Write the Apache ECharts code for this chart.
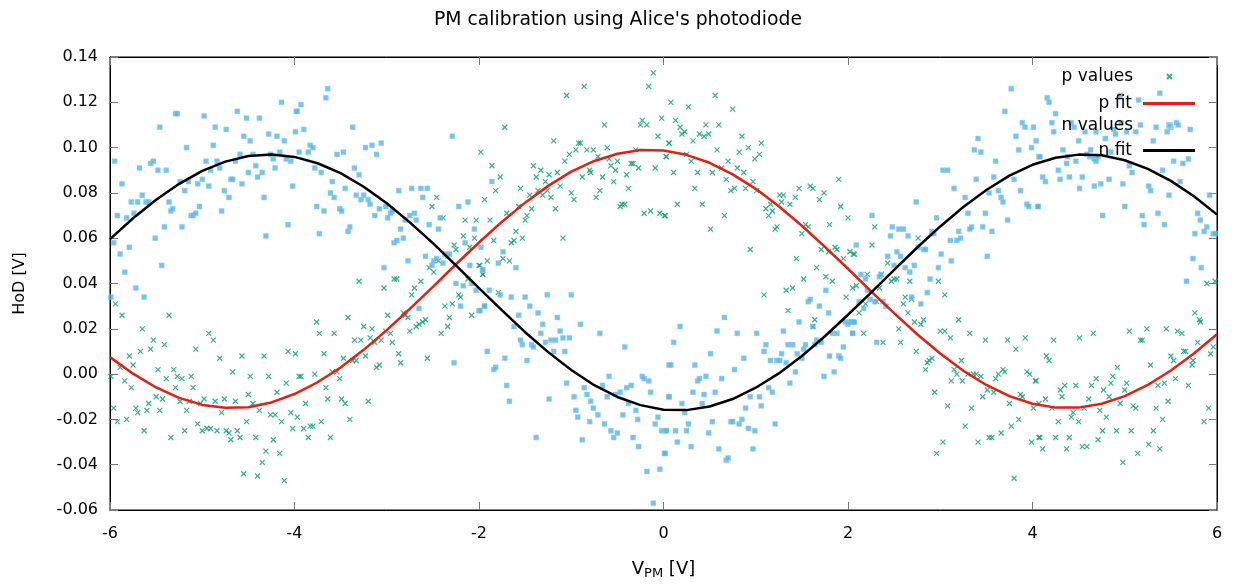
<!DOCTYPE html>
<html><head><meta charset="utf-8">
<script src="https://cdn.jsdelivr.net/npm/echarts@6/dist/echarts.min.js"></script>
<style>html,body{margin:0;padding:0;background:#fff}#c{width:1236px;height:585px}</style>
</head><body><div id="c"></div>
<script>
const titleText = "PM calibration using Alice's photodiode";
const seriesNames = ["p values", "p fit", "n values", "n fit"];
const xTickValues = [-6, -4, -2, 0, 2, 4, 6];
const yTickValues = [-0.06, -0.04, -0.02, 0.00, 0.02, 0.04, 0.06, 0.08, 0.10, 0.12, 0.14];

const pValues = [
[-5.94,0.031],[-5.87,0.026],[-5.99,-0.001],[-5.96,-0.015],[-5.92,-0.021],[-5.89,0.003],[-5.84,-0.003],[-5.82,-0.020],[-5.79,0.008],[-5.77,-0.006],
[-5.75,0.004],[-5.72,-0.015],[-5.70,-0.017],[-5.67,0.010],[-5.65,0.020],[-5.63,-0.025],[-5.60,-0.016],[-5.58,-0.013],[-5.56,0.011],[-5.53,0.015],
[-5.50,-0.010],[-5.48,0.002],[-5.46,-0.016],[-5.43,-0.011],[-5.41,0.013],[-5.39,-0.002],[-5.36,0.026],[-5.34,-0.028],[-5.31,0.002],[-5.29,-0.006],
[-5.27,-0.001],[-5.24,-0.012],[-5.22,-0.002],[-5.19,-0.025],[-5.17,-0.016],[-5.14,-0.012],[-5.12,-0.001],[-5.10,-0.006],[-5.07,0.011],[-5.05,-0.022],
[-5.02,-0.013],[-5.00,-0.025],[-4.98,-0.011],[-4.95,-0.024],[-4.93,0.018],[-4.91,-0.024],[-4.88,0.015],[-4.86,-0.012],[-4.84,-0.025],[-4.81,0.007],
[-4.79,-0.017],[-4.76,-0.011],[-4.74,-0.025],[-4.71,-0.026],[-4.69,-0.029],[-4.67,0.001],[-4.64,-0.012],[-4.62,-0.025],[-4.59,-0.028],[-4.57,0.008],
[-4.55,-0.044],[-4.52,-0.021],[-4.50,-0.009],[-4.48,-0.001],[-4.45,-0.013],[-4.42,-0.028],[-4.40,-0.045],[-4.38,-0.016],[-4.35,-0.039],[-4.33,0.008],
[-4.31,-0.034],[-4.28,-0.001],[-4.26,-0.018],[-4.23,-0.029],[-4.21,-0.018],[-4.19,-0.008],[-4.16,-0.035],[-4.14,-0.021],[-4.11,-0.047],[-4.09,-0.004],
[-4.07,0.010],[-4.04,-0.017],[-4.02,-0.024],[-3.99,0.009],[-3.97,-0.019],[-3.95,-0.001],
[-3.93,-0.001],[-3.88,-0.013],[-3.90,-0.024],[-3.85,-0.028],[-3.83,-0.023],[-3.80,-0.023],[-3.78,0.000],[-3.76,0.023],[-3.73,0.018],[-3.71,-0.021],
[-3.68,0.009],[-3.66,-0.006],[-3.64,-0.011],[-3.61,-0.028],[-3.59,0.001],[-3.57,0.018],[-3.54,0.001],[-3.51,-0.002],[-3.49,-0.011],[-3.47,0.007],
[-3.45,-0.013],[-3.42,0.025],[-3.40,-0.020],[-3.37,0.006],[-3.35,0.015],[-3.33,0.006],[-3.30,0.041],[-3.28,0.015],[-3.25,0.021],[-3.23,0.008],
[-3.20,-0.012],[-3.18,0.016],[-3.16,0.020],[-3.13,0.014],[-3.11,0.003],[-3.08,0.004],[-3.06,0.015],[-3.03,0.038],[-3.01,0.019],[-2.99,0.026],
[-2.96,0.018],[-2.94,0.014],[-2.92,0.042],[-2.89,0.042],[-2.87,0.009],[-2.85,0.005],[-2.82,0.027],[-2.80,0.026],[-2.77,0.025],[-2.75,0.019],
[-2.73,0.035],[-2.70,0.038],[-2.68,0.021],[-2.65,0.022],[-2.63,0.041],[-2.61,0.023],[-2.58,0.024],[-2.56,0.007],[-2.54,0.047],[-2.51,0.074],
[-2.49,0.045],[-2.46,0.078],[-2.44,0.050],[-2.41,0.018],[-2.39,0.069],[-2.37,0.030],[-2.34,0.021],[-2.32,0.025],[-2.29,0.031],[-2.27,0.057],
[-2.25,0.055],[-2.22,0.035],[-2.20,0.034],[-2.17,0.061],[-2.15,0.068],[-2.12,0.042],[-2.10,0.056],[-2.08,0.026],[-2.05,0.060],[-2.03,0.068],
[-2.00,0.048],[-1.98,0.098],[-1.96,0.044],[-1.94,0.077],
[-1.88,0.068],[-1.86,0.092],[-1.84,0.059],[-1.82,0.081],[-1.77,0.087],[-1.72,0.109],[-1.74,0.051],[-1.70,0.071],[-1.67,0.050],[-1.65,0.058],
[-1.62,0.059],[-1.60,0.063],[-1.57,0.074],[-1.55,0.082],[-1.53,0.060],[-1.50,0.068],[-1.48,0.070],[-1.45,0.079],[-1.43,0.073],[-1.41,0.092],
[-1.38,0.087],[-1.36,0.081],[-1.33,0.090],[-1.31,0.079],[-1.28,0.085],[-1.26,0.081],[-1.24,0.088],[-1.22,0.078],[-1.19,0.103],[-1.17,0.073],
[-1.15,0.089],[-1.12,0.083],[-1.09,0.060],[-1.07,0.094],[-1.05,0.123],[-1.02,0.097],[-1.00,0.080],[-0.97,0.077],[-0.95,0.099],[-0.92,0.102],
[-0.90,0.102],[-0.88,0.087],[-0.86,0.127],[-0.83,0.099],[-0.80,0.090],[-0.79,0.089],[-0.76,0.099],[-0.73,0.078],[-0.71,0.096],[-0.69,0.081],
[-0.66,0.087],[-0.64,0.110],[-0.61,0.100],[-0.59,0.095],[-0.57,0.092],[-0.54,0.085],[-0.52,0.090],[-0.50,0.094],[-0.47,0.074],[-0.45,0.075],
[-0.42,0.075],[-0.40,0.088],[-0.38,0.082],[-0.35,0.093],[-0.33,0.093],[-0.30,0.099],[-0.27,0.091],[-0.25,0.110],[-0.23,0.112],[-0.21,0.071],
[-0.18,0.110],[-0.16,0.127],[-0.14,0.072],[-0.11,0.133],[-0.09,0.091],[-0.06,0.105],[-0.04,0.071],[-0.02,0.113],[0.01,0.070],[0.03,0.096],
[0.06,0.102],[-1.96,0.044],[-1.91,0.050],[-1.79,0.036],[-1.99,0.048],
[0.08,0.120],[0.27,0.118],[0.56,0.123],[0.75,0.117],[0.13,0.112],[0.18,0.109],[0.20,0.106],[0.23,0.107],[0.32,0.103],[0.39,0.106],
[0.44,0.105],[0.46,0.110],[0.49,0.106],[0.60,0.110],[0.06,0.102],[0.30,0.094],[0.03,0.096],[0.11,0.089],[0.25,0.097],[0.37,0.089],
[0.53,0.089],[0.58,0.099],[0.63,0.091],[0.68,0.086],[0.70,0.094],[0.80,0.091],[0.82,0.098],[0.85,0.105],[0.87,0.089],[0.89,0.082],
[0.92,0.100],[0.97,0.085],[0.99,0.095],[1.01,0.081],[1.04,0.097],[1.06,0.102],[0.34,0.082],[0.15,0.075],[0.42,0.075],[0.73,0.081],
[0.77,0.082],[0.02,0.070],[0.66,0.070],[0.51,0.064],[1.11,0.073],[1.14,0.070],[1.16,0.075],[1.18,0.072],[1.21,0.064],[1.23,0.065],
[1.26,0.079],[1.28,0.076],[1.30,0.079],[1.37,0.075],[1.43,0.078],[1.47,0.082],[1.50,0.062],[1.54,0.066],[1.57,0.065],[1.59,0.083],
[1.62,0.082],[1.69,0.077],[1.74,0.080],[1.80,0.066],[1.90,0.086],[1.92,0.074],[2.00,0.069],[0.94,0.055],[1.09,0.035],[1.33,0.037],
[1.40,0.038],[1.35,0.028],[1.44,0.051],[1.52,0.042],[1.64,0.024],[1.62,0.021],[1.66,0.047],[1.71,0.055],[1.76,0.043],[1.79,0.054],
[1.83,0.041],[1.86,0.056],[1.88,0.055],[1.95,0.051],[1.98,0.034],[2.02,0.054],[2.05,0.038],[2.06,0.053],
[2.29,0.065],[2.26,0.057],[2.76,0.060],[2.07,0.053],[2.43,0.049],[2.21,0.044],[2.36,0.044],[2.47,0.041],[2.50,0.042],[2.53,0.042],
[2.67,0.041],[2.98,0.041],[2.09,0.039],[2.34,0.038],[3.05,0.035],[2.19,0.031],[2.12,0.027],[2.31,0.032],[2.62,0.034],[2.60,0.031],
[2.69,0.033],[2.65,0.027],[2.72,0.023],[2.79,0.022],[2.82,0.024],[2.55,0.020],[2.17,0.018],[2.38,0.014],[2.57,0.014],[3.00,0.019],
[3.05,0.019],[3.11,0.016],[3.20,0.024],[3.32,0.018],[3.49,0.015],[3.73,0.015],[3.92,0.016],[2.74,0.010],[3.82,0.011],[2.86,0.005],
[2.88,0.006],[2.91,0.007],[2.84,0.002],[3.23,0.006],[3.15,0.002],[3.18,0.000],[3.30,0.000],[3.36,0.000],[3.39,0.000],[3.44,-0.001],
[3.63,0.000],[3.68,0.002],[3.70,0.001],[3.60,-0.002],[3.94,0.001],[3.97,0.000],[4.04,-0.003],[3.12,-0.003],[3.24,-0.003],[3.51,-0.007],
[3.46,-0.010],[3.58,-0.008],[3.87,-0.009],[3.89,-0.010],[3.75,-0.013],[4.01,-0.015],[4.07,-0.013],[2.94,-0.008],[3.08,-0.014],[3.34,-0.015],
[3.85,-0.020],[3.27,-0.023],[3.77,-0.023],[3.03,-0.030],[3.41,-0.030],[3.53,-0.028],[3.56,-0.028],[3.66,-0.026],[3.99,-0.030],[4.07,-0.028],
[2.96,-0.035],[3.80,-0.046],
[5.89,0.040],[5.98,0.041],[5.76,0.027],[5.82,0.023],[5.81,0.024],[4.23,0.015],[4.51,0.016],[4.66,0.018],[5.05,0.019],[5.24,0.020],
[5.45,0.020],[5.57,0.019],[5.62,0.018],[5.17,0.015],[5.19,0.015],[5.96,0.012],[5.93,0.009],[5.79,0.014],[5.66,0.010],[5.64,0.010],
[5.50,0.008],[4.15,0.008],[4.18,0.006],[5.74,0.006],[5.73,0.004],[5.53,0.006],[5.28,0.004],[4.92,0.003],[4.03,-0.003],[4.87,-0.001],
[4.69,-0.002],[4.35,-0.005],[4.47,-0.005],[4.64,-0.005],[5.02,-0.004],[4.85,-0.004],[5.36,-0.005],[5.43,-0.004],[5.55,-0.002],[5.69,-0.005],
[4.30,-0.007],[4.77,-0.007],[5.00,-0.007],[4.32,-0.010],[4.14,-0.011],[4.21,-0.015],[4.61,-0.011],[4.83,-0.010],[4.95,-0.013],[5.09,-0.014],
[5.12,-0.015],[4.56,-0.015],[5.34,-0.015],[5.47,-0.012],[5.91,-0.015],[4.44,-0.017],[4.42,-0.019],[4.73,-0.016],[4.50,-0.021],[4.28,-0.021],
[4.80,-0.019],[5.41,-0.020],[5.86,-0.021],[4.76,-0.025],[4.91,-0.025],[5.07,-0.025],[5.31,-0.025],[4.08,-0.028],[4.25,-0.028],[4.40,-0.028],
[4.11,-0.033],[4.37,-0.033],[4.54,-0.032],[4.59,-0.032],[4.71,-0.029],[5.26,-0.031],[5.38,-0.033],[5.14,-0.035],[4.98,-0.039]
];

const nValues = [
[-5.95,0.094],[-5.87,0.084],[-5.92,0.070],[-5.96,0.058],[-5.89,0.053],[-5.84,0.045],[-5.99,0.034],[-5.79,0.056],[-5.82,0.069],[-5.77,0.076],
[-5.74,0.071],[-5.72,0.038],[-5.70,0.076],[-5.68,0.091],[-5.65,0.079],[-5.63,0.034],[-5.61,0.076],[-5.58,0.076],[-5.56,0.093],[-5.53,0.094],
[-5.51,0.060],[-5.48,0.090],[-5.46,0.109],[-5.44,0.048],[-5.41,0.065],[-5.39,0.090],[-5.36,0.076],[-5.34,0.072],[-5.32,0.073],[-5.29,0.115],
[-5.27,0.115],[-5.24,0.085],[-5.22,0.065],[-5.19,0.081],[-5.17,0.100],[-5.15,0.085],[-5.12,0.070],[-5.10,0.070],[-5.07,0.071],[-5.05,0.084],
[-5.03,0.074],[-5.00,0.086],[-4.98,0.114],[-4.96,0.094],[-4.93,0.083],[-4.91,0.090],[-4.88,0.101],[-4.86,0.109],[-4.84,0.094],[-4.81,0.091],
[-4.79,0.072],[-4.76,0.081],[-4.74,0.108],[-4.71,0.078],[-4.69,0.086],[-4.67,0.086],[-4.64,0.094],[-4.62,0.116],[-4.59,0.097],[-4.57,0.084],
[-4.55,0.105],[-4.52,0.113],[-4.50,0.089],[-4.48,0.103],[-4.45,0.097],[-4.42,0.092],[-4.40,0.087],[-4.38,0.113],[-4.35,0.089],[-4.33,0.078],
[-4.31,0.061],[-4.28,0.106],[-4.26,0.097],[-4.23,0.095],[-4.21,0.091],[-4.19,0.105],[-4.16,0.098],[-4.14,0.120],[-4.11,0.103],[-4.09,0.095],
[-4.07,0.066],[-4.04,0.094],[-4.02,0.083],[-3.99,0.107],[-3.97,0.116],[-3.95,0.098],
[-3.98,0.116],[-3.93,0.119],[-3.90,0.108],[-3.85,0.098],[-3.83,0.101],[-3.80,0.100],[-3.78,0.091],[-3.76,0.074],[-3.73,0.062],[-3.71,0.089],
[-3.68,0.072],[-3.66,0.122],[-3.64,0.126],[-3.61,0.080],[-3.59,0.085],[-3.57,0.078],[-3.54,0.097],[-3.51,0.073],[-3.49,0.072],[-3.47,0.098],
[-3.45,0.082],[-3.42,0.063],[-3.40,0.065],[-3.37,0.109],[-3.35,0.091],[-3.33,0.079],[-3.30,0.088],[-3.28,0.077],[-3.25,0.079],[-3.23,0.100],
[-3.20,0.077],[-3.18,0.075],[-3.16,0.101],[-3.13,0.070],[-3.11,0.097],[-3.08,0.073],[-3.06,0.102],[-3.03,0.047],[-3.01,0.074],[-2.99,0.069],
[-2.96,0.071],[-2.94,0.072],[-2.92,0.058],[-2.89,0.059],[-2.87,0.081],[-2.85,0.064],[-2.82,0.060],[-2.80,0.068],[-2.77,0.050],[-2.75,0.070],
[-2.73,0.082],[-2.70,0.071],[-2.68,0.068],[-2.65,0.029],[-2.63,0.082],[-2.61,0.078],[-2.58,0.052],[-2.56,0.082],[-2.54,0.066],[-2.51,0.048],
[-2.49,0.050],[-2.46,0.051],[-2.44,0.064],[-2.42,0.069],[-2.39,0.049],[-2.37,0.053],[-2.34,0.052],[-2.32,0.053],[-2.29,0.105],[-2.27,0.005],
[-2.25,0.040],[-2.22,0.074],[-2.20,0.030],[-2.17,0.039],[-2.15,0.058],[-2.12,0.076],[-2.10,0.048],[-2.08,0.040],[-2.05,0.064],[-2.03,0.037],
[-2.00,0.028],[-1.98,0.056],[-1.96,0.046],[-1.94,0.030],
[-1.86,0.085],[-1.74,0.054],[-1.79,0.049],[-1.60,0.047],[-1.96,0.046],[-1.89,0.037],[-1.94,0.030],[-1.77,0.035],[-1.65,0.034],[-1.50,0.034],
[-1.26,0.035],[-1.00,0.035],[-1.45,0.030],[-1.36,0.027],[-1.57,0.026],[-1.62,0.021],[-1.31,0.022],[-1.15,0.025],[-1.91,0.010],[-1.84,0.002],
[-1.82,0.003],[-1.72,0.007],[-1.70,-0.005],[-1.67,-0.012],[-1.55,0.015],[-1.53,0.013],[-1.48,0.006],[-1.43,0.013],[-1.41,0.012],[-1.33,0.018],
[-1.28,0.014],[-1.22,0.015],[-1.17,0.015],[-1.12,0.019],[-1.09,0.016],[-1.02,0.016],[-1.19,0.010],[-1.07,0.010],[-0.90,0.022],[-0.69,0.018],
[-0.42,0.012],[-1.24,-0.011],[-1.05,-0.004],[-0.97,-0.010],[-0.95,-0.016],[-0.93,-0.019],[-0.86,-0.006],[-0.83,-0.009],[-0.80,-0.021],[-0.79,-0.012],
[-0.76,-0.015],[-0.71,-0.018],[-0.66,-0.005],[-0.64,-0.022],[-0.61,-0.010],[-0.59,-0.001],[-0.57,-0.025],[-0.54,-0.028],[-0.52,-0.009],[-0.50,-0.026],
[-0.47,-0.008],[-0.44,-0.018],[-0.40,-0.006],[-0.38,-0.013],[-0.35,-0.005],[-0.33,-0.028],[-0.30,-0.016],[-0.28,-0.020],[-0.27,-0.032],[-0.23,-0.001],
[-0.21,-0.002],[-0.18,-0.043],[-0.16,-0.003],[-0.14,-0.008],[-0.11,-0.057],[-0.09,-0.022],[-0.06,-0.019],[-0.04,-0.042],[-0.02,-0.025],[0.01,-0.035],
[0.03,-0.025],[0.06,-0.010],[0.06,0.004],[-1.38,-0.028],[-0.88,-0.029],[-1.99,0.028],
[0.18,0.021],[0.11,0.014],[0.08,0.004],[0.06,-0.010],[0.20,-0.013],[0.23,-0.017],[0.03,-0.025],[0.13,-0.025],[0.25,-0.025],[0.27,-0.022],
[0.15,-0.030],[0.30,-0.032],[0.02,-0.035],[0.32,-0.008],[0.34,0.004],[0.37,-0.003],[0.39,-0.002],[0.42,-0.013],[0.44,-0.009],[0.46,-0.001],
[0.49,-0.026],[0.51,0.009],[0.53,-0.021],[0.56,-0.008],[0.58,0.019],[0.60,-0.033],[0.63,-0.002],[0.66,0.025],[0.68,-0.038],[0.70,-0.037],
[0.73,-0.021],[0.75,-0.021],[0.77,0.002],[0.80,0.018],[0.82,-0.022],[0.85,-0.020],[0.87,0.007],[0.89,-0.015],[0.92,-0.024],[0.94,-0.010],
[0.97,-0.033],[0.99,-0.025],[1.01,0.018],[1.04,-0.010],[1.06,-0.014],[1.09,0.010],[1.11,0.013],[1.14,-0.006],[1.16,0.006],[1.18,-0.008],
[1.21,-0.022],[1.23,0.006],[1.26,0.006],[1.28,0.009],[1.30,0.019],[1.33,0.005],[1.35,0.013],[1.37,-0.004],[1.40,0.013],[1.43,0.001],
[1.45,0.009],[1.47,0.023],[1.50,0.007],[1.52,0.011],[1.54,0.013],[1.57,0.032],[1.59,0.033],[1.62,0.021],[1.64,0.013],[1.66,0.015],
[1.69,0.030],[1.71,0.014],[1.74,-0.001],[1.76,0.037],[1.79,0.027],[1.80,0.008],[1.83,0.018],[1.85,0.001],[1.88,0.018],[1.90,0.008],
[1.92,0.007],[1.95,0.012],[1.97,0.023],[2.00,0.022],[2.02,0.023],[2.05,0.018],[2.06,0.023],
[3.77,0.126],[3.70,0.116],[3.89,0.111],[3.92,0.109],[4.01,0.109],[3.41,0.104],[3.37,0.099],[3.44,0.098],[3.82,0.105],[4.04,0.103],
[3.85,0.099],[3.99,0.100],[3.60,0.094],[4.07,0.096],[3.03,0.090],[3.08,0.090],[3.39,0.086],[3.58,0.087],[3.80,0.086],[3.15,0.082],
[3.53,0.080],[3.63,0.081],[3.27,0.078],[3.66,0.078],[3.68,0.076],[3.87,0.081],[3.94,0.075],[3.96,0.074],[4.06,0.074],[2.74,0.076],
[3.49,0.071],[3.30,0.071],[3.73,0.068],[2.26,0.070],[2.48,0.065],[2.55,0.064],[2.60,0.064],[3.34,0.065],[3.46,0.065],[2.96,0.069],
[2.46,0.061],[2.65,0.061],[2.91,0.063],[2.93,0.062],[3.20,0.063],[3.22,0.060],[3.32,0.064],[3.56,0.063],[2.09,0.057],[3.11,0.059],
[3.18,0.059],[2.53,0.054],[2.57,0.052],[2.76,0.056],[2.82,0.055],[2.84,0.055],[2.43,0.052],[3.01,0.053],[3.51,0.052],[3.12,0.050],
[2.62,0.047],[2.72,0.048],[2.98,0.047],[2.67,0.045],[2.14,0.044],[2.36,0.044],[2.34,0.043],[2.19,0.042],[2.89,0.042],[2.50,0.048],
[2.86,0.036],[2.79,0.031],[2.69,0.034],[2.21,0.037],[2.12,0.032],[2.24,0.033],[2.29,0.032],[2.38,0.032],[2.41,0.030],[2.17,0.029],
[2.04,0.023],[2.07,0.023],[2.05,0.018],[2.31,0.014],
[4.16,0.122],[4.18,0.120],[4.25,0.115],[4.21,0.111],[4.23,0.107],[4.42,0.111],[4.45,0.109],[4.57,0.107],[4.50,0.103],[4.69,0.107],
[4.79,0.104],[4.88,0.108],[4.90,0.106],[4.96,0.111],[5.02,0.107],[5.12,0.107],[5.17,0.110],[5.34,0.109],[5.46,0.107],[5.50,0.109],
[5.56,0.111],[5.58,0.110],[5.71,0.108],[5.31,0.103],[5.38,0.124],[4.95,0.123],[5.15,0.121],[4.38,0.096],[4.33,0.099],[4.47,0.094],
[4.59,0.097],[4.62,0.096],[4.63,0.099],[4.67,0.095],[4.69,0.094],[4.71,0.096],[4.37,0.093],[4.08,0.096],[4.85,0.098],[5.05,0.092],
[5.08,0.089],[5.41,0.090],[5.53,0.094],[5.69,0.095],[5.63,0.093],[4.28,0.090],[4.11,0.087],[4.14,0.085],[4.30,0.086],[4.40,0.087],
[4.54,0.087],[4.51,0.082],[4.67,0.083],[4.74,0.084],[4.83,0.086],[4.98,0.084],[5.26,0.083],[5.28,0.081],[5.48,0.079],[5.60,0.085],
[5.92,0.079],[4.06,0.074],[5.00,0.074],[4.76,0.070],[5.19,0.070],[5.21,0.066],[5.36,0.071],[5.43,0.066],[5.79,0.071],[5.82,0.068],
[5.89,0.065],[5.76,0.062],[5.86,0.063],[5.96,0.062],[5.98,0.062],[5.74,0.051],[5.83,0.047],[5.67,0.041]
];

const pFit = [
[-6.00,0.0075],[-5.75,0.0002],[-5.50,-0.0059],[-5.25,-0.0105],[-5.00,-0.0136],[-4.75,-0.0149],[-4.50,-0.0146],[-4.25,-0.0125],
[-4.00,-0.0088],[-3.75,-0.0036],[-3.50,0.0029],[-3.25,0.0107],[-3.00,0.0194],[-2.75,0.0288],[-2.50,0.0385],[-2.25,0.0485],
[-2.00,0.0581],[-1.75,0.0673],[-1.50,0.0757],[-1.25,0.0831],[-1.00,0.0894],[-0.75,0.0941],[-0.50,0.0973],[-0.25,0.0989],
[0.00,0.0987],[0.25,0.0968],[0.50,0.0933],[0.75,0.0882],[1.00,0.0818],[1.25,0.0741],[1.50,0.0655],[1.75,0.0562],
[2.00,0.0465],[2.25,0.0365],[2.50,0.0269],[2.75,0.0176],[3.00,0.0091],[3.25,0.0015],[3.50,-0.0048],[3.75,-0.0097],
[4.00,-0.0131],[4.25,-0.0148],[4.50,-0.0148],[4.75,-0.0131],[5.00,-0.0097],[5.25,-0.0048],[5.50,0.0016],[5.75,0.0091],[6.00,0.0176]
];

const nFit = [
[-6.00,0.0596],[-5.75,0.0688],[-5.50,0.0770],[-5.25,0.0840],[-5.00,0.0897],[-4.75,0.0938],[-4.50,0.0963],[-4.25,0.0970],
[-4.00,0.0959],[-3.75,0.0931],[-3.50,0.0887],[-3.25,0.0827],[-3.00,0.0754],[-2.75,0.0670],[-2.50,0.0578],[-2.25,0.0480],
[-2.00,0.0380],[-1.75,0.0281],[-1.50,0.0185],[-1.25,0.0097],[-1.00,0.0018],[-0.75,-0.0049],[-0.50,-0.0101],[-0.25,-0.0137],
[0.00,-0.0157],[0.25,-0.0159],[0.50,-0.0143],[0.75,-0.0110],[1.00,-0.0060],[1.25,0.0003],[1.50,0.0080],[1.75,0.0167],
[2.00,0.0262],[2.25,0.0360],[2.50,0.0460],[2.75,0.0559],[3.00,0.0652],[3.25,0.0738],[3.50,0.0813],[3.75,0.0876],
[4.00,0.0924],[4.25,0.0955],[4.50,0.0969],[4.75,0.0966],[5.00,0.0944],[5.25,0.0906],[5.50,0.0853],[5.75,0.0785],[6.00,0.0704]
];

const FONT = 'DejaVu Sans';
const GREEN = '#009e73', BLUE = '#56b4e9', RED = '#e51e10';
const XPATH = 'path://M0,0L10,10M10,0L0,10';
const chart = echarts.init(document.getElementById('c'), null, {renderer: 'canvas'});
const tickStyle = {show: true, inside: true, length: 8, lineStyle: {color: '#777', width: 1}};
const legendText = {fontFamily: FONT, fontSize: 17, color: '#000'};
function lineLegend(name, top) {
  return {orient: 'vertical', right: 36, top: top, align: 'right', itemWidth: 52, itemHeight: 3,
          icon: 'rect', textStyle: Object.assign({padding: [0, 6, 0, 0]}, legendText), data: [name]};
}
function pointLegend(name, top, icon) {
  return {orient: 'vertical', right: 58, top: top, align: 'right', itemWidth: 5, itemHeight: 5,
          icon: icon, textStyle: Object.assign({padding: [0, 29, 0, 0]}, legendText), data: [name]};
}
chart.setOption({
  animation: false,
  backgroundColor: '#fff',
  title: {text: titleText, left: 'center', top: 6, textStyle: {fontFamily: FONT, fontSize: 18.8, fontWeight: 'normal', color: '#000'}},
  legend: [
    pointLegend(seriesNames[0], 63, XPATH),
    lineLegend(seriesNames[1], 90),
    pointLegend(seriesNames[2], 112, 'rect'),
    lineLegend(seriesNames[3], 137)
  ],
  grid: {left: 110, right: 19, top: 57, bottom: 75, show: true, borderColor: '#000', borderWidth: 1, backgroundColor: 'transparent'},
  xAxis: [{
    type: 'value', min: -6, max: 6, interval: 2,
    name: 'V{sub|PM} [V]', nameLocation: 'middle', nameGap: 48,
    nameTextStyle: {fontFamily: FONT, fontSize: 18, color: '#000', rich: {sub: {fontFamily: FONT, fontSize: 13, color: '#000', padding: [9, 0, 0, 0]}}},
    axisLine: {show: true, onZero: false, lineStyle: {color: '#000'}},
    axisTick: tickStyle,
    axisLabel: {fontFamily: FONT, fontSize: 16, color: '#000', margin: 16, formatter: v => String(v)},
    splitLine: {show: false}
  }, {
    type: 'value', min: -6, max: 6, interval: 2, position: 'top',
    axisLine: {show: true, onZero: false, lineStyle: {color: '#000'}},
    axisTick: tickStyle, axisLabel: {show: false}, splitLine: {show: false}
  }],
  yAxis: [{
    type: 'value', min: -0.06, max: 0.14, interval: 0.02,
    name: 'HoD [V]', nameLocation: 'middle', nameGap: 82, nameRotate: 90,
    nameTextStyle: {fontFamily: FONT, fontSize: 16, color: '#000'},
    axisLine: {show: true, onZero: false, lineStyle: {color: '#000'}},
    axisTick: tickStyle,
    axisLabel: {fontFamily: FONT, fontSize: 16, color: '#000', margin: 12, formatter: v => (Math.abs(v) < 1e-9 ? 0 : v).toFixed(2)},
    splitLine: {show: false}
  }, {
    type: 'value', min: -0.06, max: 0.14, interval: 0.02, position: 'right',
    axisLine: {show: true, onZero: false, lineStyle: {color: '#000'}},
    axisTick: tickStyle, axisLabel: {show: false}, splitLine: {show: false}
  }],
  series: [
    {name: seriesNames[0], type: 'scatter', data: pValues, symbol: XPATH, symbolSize: 5,
     itemStyle: {color: 'rgba(0,0,0,0)', borderColor: GREEN, borderWidth: 1.2}},
    {name: seriesNames[1], type: 'line', data: pFit, smooth: false, showSymbol: false, symbol: 'none',
     lineStyle: {color: RED, width: 2.5, join: 'round'}, itemStyle: {color: RED}},
    {name: seriesNames[2], type: 'scatter', data: nValues, symbol: 'rect', symbolSize: 5,
     itemStyle: {color: BLUE, borderColor: '#8fd0f2', borderWidth: 0.5}},
    {name: seriesNames[3], type: 'line', data: nFit, smooth: false, showSymbol: false, symbol: 'none',
     lineStyle: {color: '#000', width: 2.5, join: 'round'}, itemStyle: {color: '#000'}}
  ]
});
</script>
</body></html>
